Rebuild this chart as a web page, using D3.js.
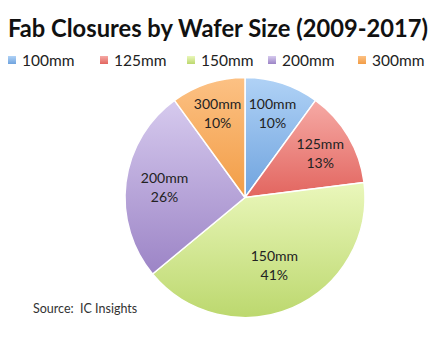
<!DOCTYPE html>
<html><head><meta charset="utf-8">
<script src="https://cdn.jsdelivr.net/npm/d3@7"></script>
<style>body{margin:0;background:#fff}svg{display:block}</style>
</head><body><svg id="c" width="440" height="341"></svg>
<script>
const categories = ["100mm","125mm","150mm","200mm","300mm"];
const values = [10,13,41,26,10];
const colors = ["#6fa3de","#e2655f","#bcd86e","#9c84c6","#f29d46"];
const lights = ["#b0d2f6","#f6aaa5","#eaf7bb","#d6caee","#fcc184"];
const titleText = "Fab Closures by Wafer Size (2009-2017)";
const sourceText = "Source:  IC Insights";

const svg = d3.select("#c");
const font = "Lato, 'Open Sans', sans-serif";
const cx = 245, cy = 197.5, r = 120;

const defs = svg.append("defs");
colors.forEach((c,i)=>{
  const g = defs.append("linearGradient").attr("id","g"+i)
    .attr("x1",0).attr("y1",0).attr("x2",0).attr("y2",1);
  g.append("stop").attr("offset","0%").attr("stop-color",lights[i]);
  g.append("stop").attr("offset","100%").attr("stop-color",c);
});
const lg = defs.append("linearGradient").attr("id","lg").attr("x1",0).attr("y1",0).attr("x2",0).attr("y2",1);

svg.append("text").attr("x",8).attr("y",36.5)
  .attr("font-family",font).attr("font-weight","bold").attr("font-size",24)
  .attr("textLength",420).attr("lengthAdjust","spacingAndGlyphs")
  .attr("fill","#111").text(titleText);

// legend
const x = d3.scalePoint().domain(categories).range([8,358]);
const legX = [8,100,187,268,358];
const leg = svg.append("g");
categories.forEach((c,i)=>{
  leg.append("rect").attr("x",legX[i]).attr("y",56).attr("width",8).attr("height",8)
    .attr("fill",`url(#g${i})`);
  leg.append("text").attr("x",legX[i]+14).attr("y",65.5).attr("font-family",font)
    .attr("font-size",15.5).attr("fill","#222").text(c);
});

const pie = d3.pie().sort(null).value(d=>d)(values);
const arc = d3.arc().innerRadius(0).outerRadius(r);
const g = svg.append("g").attr("transform",`translate(${cx},${cy})`);
g.selectAll("path").data(pie).join("path")
  .attr("d",arc).attr("fill",(d,i)=>`url(#g${i})`)
  .attr("stroke","#fff").attr("stroke-width",1.5).attr("stroke-linejoin","round");

const lab = g.selectAll("g.l").data(pie).join("g").attr("class","l")
  .attr("transform",(d,i)=>{
    const rr = r*(0.78 - 0.004*d.value);
    const p = d3.arc().innerRadius(rr).outerRadius(rr).centroid(d);
    return `translate(${p[0]},${p[1]})`;});
lab.append("text").attr("text-anchor","middle").attr("y",-4)
  .attr("font-family",font).attr("font-size",14).attr("fill","#222")
  .text((d,i)=>categories[i]);
lab.append("text").attr("text-anchor","middle").attr("y",14.5)
  .attr("font-family",font).attr("font-size",14).attr("fill","#222")
  .text((d,i)=>values[i]+"%");

svg.append("text").attr("x",33).attr("y",312.5).attr("font-family",font)
  .attr("font-size",12.5).attr("fill","#333").style("white-space","pre").text(sourceText);
</script></body></html>
